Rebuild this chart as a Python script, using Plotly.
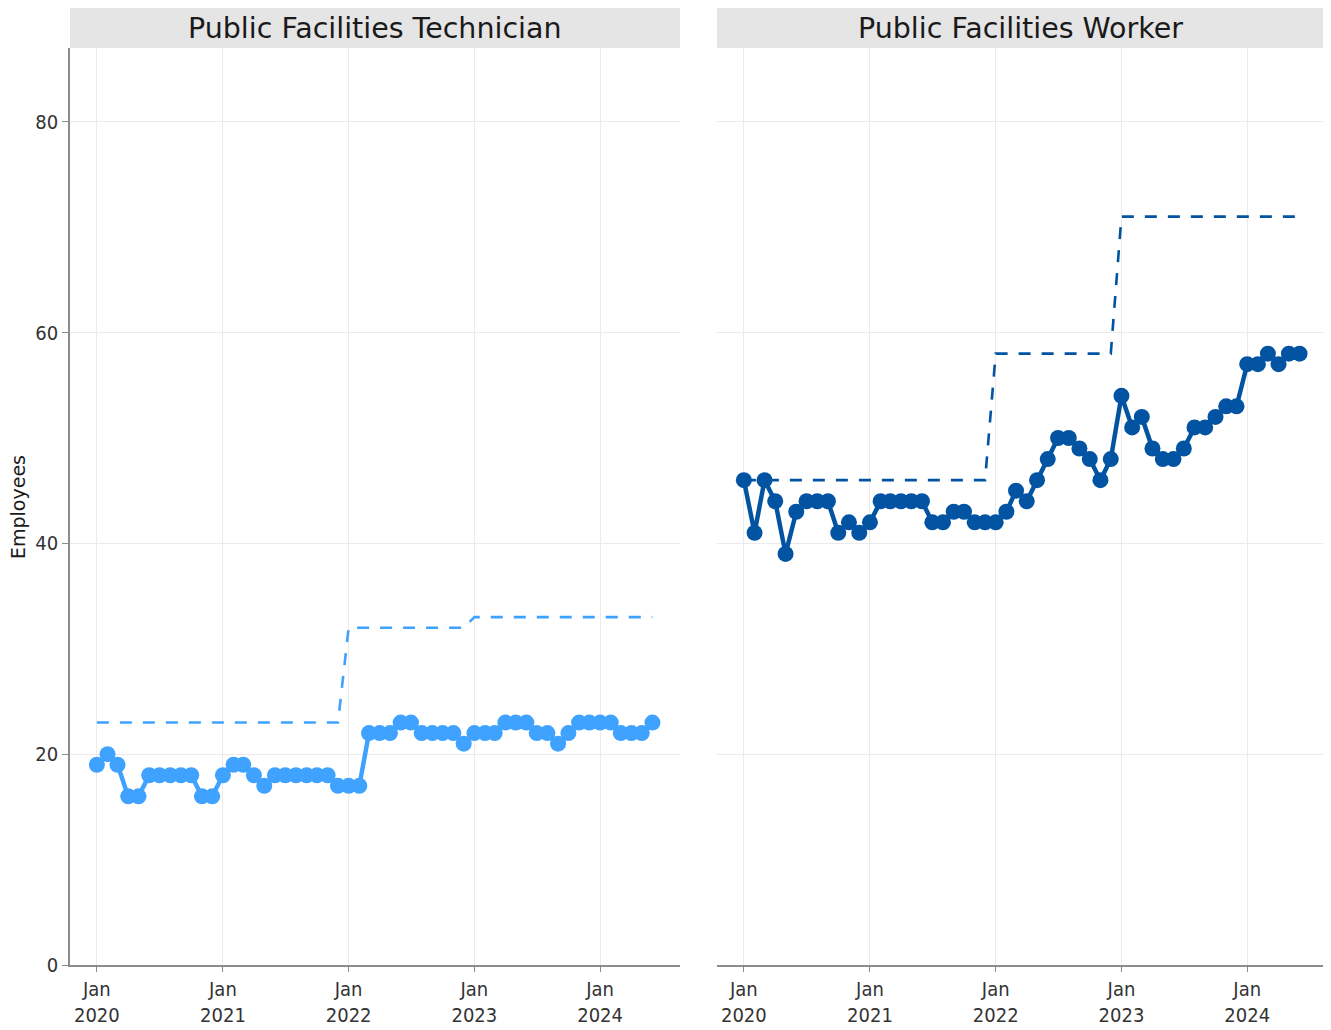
import pandas as pd
import plotly.graph_objects as go

months = pd.date_range("2020-01-01", "2024-06-01", freq="MS")

tech_actual = [19, 20, 19, 16, 16, 18, 18, 18, 18, 18, 16, 16,
               18, 19, 19, 18, 17, 18, 18, 18, 18, 18, 18, 17,
               17, 17, 22, 22, 22, 23, 23, 22, 22, 22, 22, 21,
               22, 22, 22, 23, 23, 23, 22, 22, 21, 22, 23, 23,
               23, 23, 22, 22, 22, 23]
tech_budget = [23] * 24 + [32] * 12 + [33] * 18

worker_actual = [46, 41, 46, 44, 39, 43, 44, 44, 44, 41, 42, 41,
                 42, 44, 44, 44, 44, 44, 42, 42, 43, 43, 42, 42,
                 42, 43, 45, 44, 46, 48, 50, 50, 49, 48, 46, 48,
                 54, 51, 52, 49, 48, 48, 49, 51, 51, 52, 53, 53,
                 57, 57, 58, 57, 58, 58]
worker_budget = [46] * 24 + [58] * 12 + [71] * 18

panel_titles = ["Public Facilities Technician", "Public Facilities Worker"]
tick_dates = ["2020-01-01", "2021-01-01", "2022-01-01", "2023-01-01", "2024-01-01"]
tick_text = ["Jan<br>2020", "Jan<br>2021", "Jan<br>2022", "Jan<br>2023", "Jan<br>2024"]
y_ticks = [0, 20, 40, 60, 80]

TICKFONT = "DejaVu Sans Condensed, DejaVu Sans, sans-serif"
TITLEFONT = "DejaVu Sans, sans-serif"
c_tech = "#3fa2ff"
c_work = "#0254a3"

fig = go.Figure()
series = [(tech_actual, tech_budget, c_tech, "x", "y"),
          (worker_actual, worker_budget, c_work, "x2", "y2")]
for actual, budget, col, xa, ya in series:
    fig.add_trace(go.Scatter(x=months, y=budget, mode="lines", xaxis=xa, yaxis=ya,
                             line=dict(color=col, width=2.6, dash="12px,11px"),
                             showlegend=False))
    fig.add_trace(go.Scatter(x=months, y=actual, mode="lines+markers", xaxis=xa, yaxis=ya,
                             line=dict(color=col, width=4.5),
                             marker=dict(color=col, size=16),
                             showlegend=False))

W, H = 1315, 1022
L, R, T, B = 62, 0, 40, 65
pw = W - L - R
ph = H - T - B
dom1 = [0, 610 / pw]
dom2 = [(709 - L) / pw, 1]

xcommon = dict(type="date", tickvals=tick_dates, ticktext=tick_text,
               showgrid=True, gridcolor="#ebebeb", gridwidth=1,
               showline=True, linecolor="#8c8c8c", linewidth=1.5,
               ticks="outside", ticklen=5, tickcolor="#8c8c8c",
               tickfont=dict(family=TICKFONT, size=20, color="#333333"),
               zeroline=False, fixedrange=True)
ycommon = dict(range=[0, 87], tickvals=y_ticks,
               showgrid=True, gridcolor="#ebebeb", gridwidth=1,
               zeroline=False, fixedrange=True)

fig.update_layout(
    width=W, height=H,
    margin=dict(l=L, r=R, t=T, b=B, autoexpand=False),
    paper_bgcolor="white", plot_bgcolor="white",
    showlegend=False,
    xaxis=dict(domain=dom1, anchor="y", range=["2019-10-15", "2024-08-20"], **xcommon),
    xaxis2=dict(domain=dom2, anchor="y2", range=["2019-10-15", "2024-08-08"], **xcommon),
    yaxis=dict(domain=[0, 1], anchor="x", showline=True, linecolor="#8c8c8c", linewidth=1.5,
               ticks="outside", ticklen=6, tickcolor="#8c8c8c",
               tickfont=dict(family=TICKFONT, size=20, color="#333333"), **ycommon),
    yaxis2=dict(domain=[0, 1], anchor="x2", showline=False, showticklabels=False,
                ticks="", **ycommon),
)

strip_h = 40 / ph
for dom, title in zip([dom1, dom2], panel_titles):
    fig.add_shape(type="rect", xref="paper", yref="paper",
                  x0=dom[0], x1=dom[1], y0=1, y1=1 + strip_h,
                  fillcolor="#e5e5e5", line=dict(width=0), layer="below")
    fig.add_annotation(xref="paper", yref="paper", x=(dom[0] + dom[1]) / 2,
                       y=1 + strip_h / 2, text=title, showarrow=False,
                       xanchor="center", yanchor="middle",
                       font=dict(family=TITLEFONT, size=28.5, color="#1a1a1a"))

fig.add_annotation(xref="paper", yref="paper", x=(10 - L) / pw, y=(957 - 499) / ph,
                   text="Employees", textangle=-90, showarrow=False,
                   xanchor="center", yanchor="middle",
                   font=dict(family=TITLEFONT, size=19, color="#1a1a1a"))

fig.write_html("out.html")
